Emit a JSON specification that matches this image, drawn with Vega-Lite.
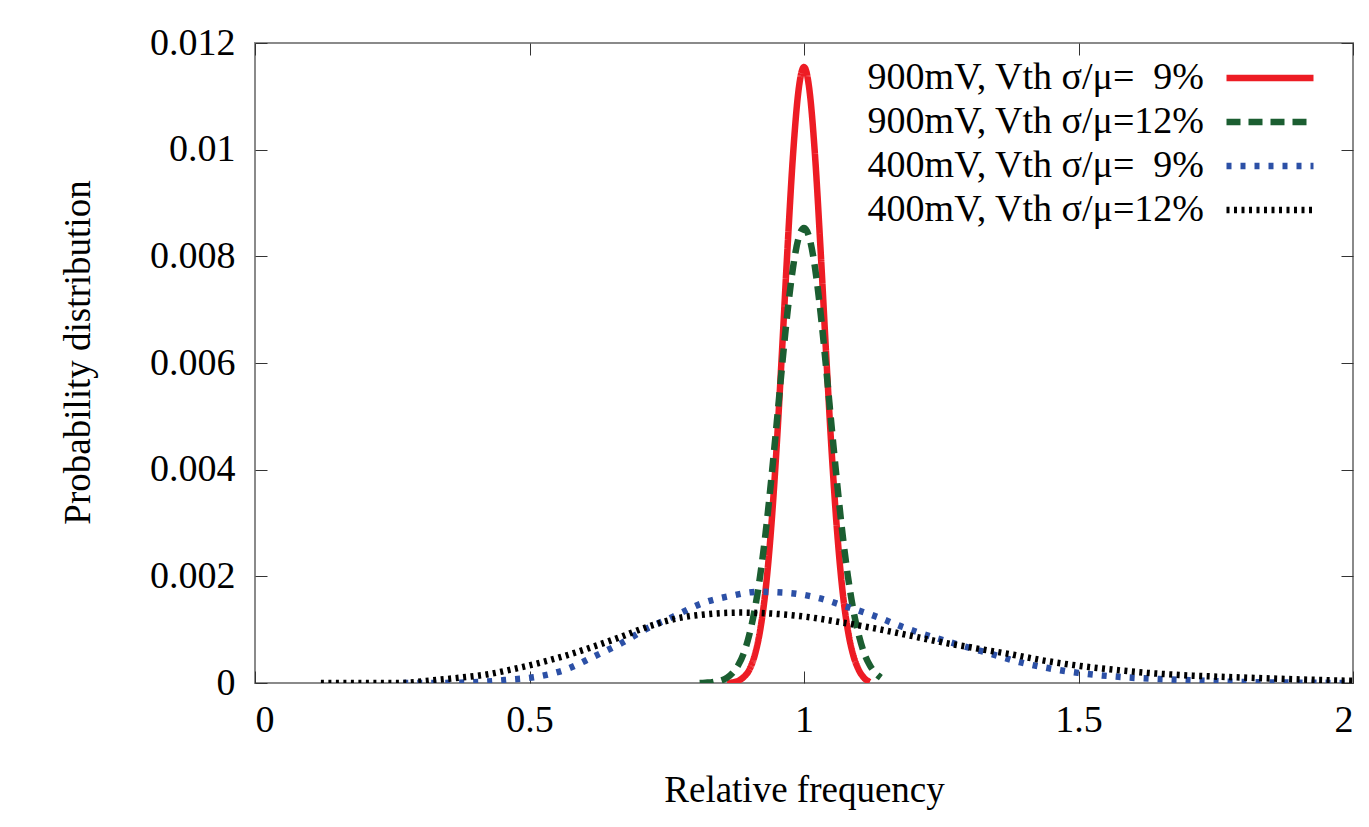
{
  "$schema": "https://vega.github.io/schema/vega-lite/v6.json",
  "width": 1098,
  "height": 640,
  "autosize": {"type": "none"},
  "padding": {"left": 255, "top": 43, "right": 16, "bottom": 144},
  "background": "white",
  "config": {
    "view": {"stroke": "#8a8a8a", "strokeWidth": 2},
    "font": "Liberation Serif",
    "axis": {
      "labelFont": "Liberation Serif",
      "labelFontSize": 38,
      "labelColor": "#000",
      "titleFont": "Liberation Serif",
      "titleFontSize": 37,
      "titleFontWeight": "normal",
      "titleColor": "#000",
      "domain": false,
      "grid": false,
      "tickColor": "#333",
      "tickWidth": 1,
      "tickSize": -12
    },
    "legend": {
      "labelFont": "Liberation Serif",
      "labelFontSize": 38,
      "labelColor": "#000"
    }
  },
  "data": {
    "values": [
      {"s": "A", "x": 0.86, "y": 0.0},
      {"s": "A", "x": 0.87, "y": 0.00001},
      {"s": "A", "x": 0.88, "y": 0.00004},
      {"s": "A", "x": 0.89, "y": 0.00011},
      {"s": "A", "x": 0.90, "y": 0.00024},
      {"s": "A", "x": 0.91, "y": 0.00051},
      {"s": "A", "x": 0.92, "y": 0.00098},
      {"s": "A", "x": 0.93, "y": 0.00174},
      {"s": "A", "x": 0.94, "y": 0.00288},
      {"s": "A", "x": 0.95, "y": 0.0044},
      {"s": "A", "x": 0.96, "y": 0.00623},
      {"s": "A", "x": 0.97, "y": 0.00816},
      {"s": "A", "x": 0.98, "y": 0.0099},
      {"s": "A", "x": 0.99, "y": 0.01111},
      {"s": "A", "x": 1.00, "y": 0.01155},
      {"s": "A", "x": 1.01, "y": 0.01111},
      {"s": "A", "x": 1.02, "y": 0.0099},
      {"s": "A", "x": 1.03, "y": 0.00816},
      {"s": "A", "x": 1.04, "y": 0.00623},
      {"s": "A", "x": 1.05, "y": 0.0044},
      {"s": "A", "x": 1.06, "y": 0.00288},
      {"s": "A", "x": 1.07, "y": 0.00174},
      {"s": "A", "x": 1.08, "y": 0.00098},
      {"s": "A", "x": 1.09, "y": 0.00051},
      {"s": "A", "x": 1.10, "y": 0.00024},
      {"s": "A", "x": 1.11, "y": 0.00009},
      {"s": "A", "x": 1.12, "y": 0.00002},
      {"s": "B", "x": 0.81, "y": 0.0},
      {"s": "B", "x": 0.82, "y": 0.000006},
      {"s": "B", "x": 0.83, "y": 0.00001},
      {"s": "B", "x": 0.84, "y": 0.00003},
      {"s": "B", "x": 0.85, "y": 0.00005},
      {"s": "B", "x": 0.86, "y": 0.0001},
      {"s": "B", "x": 0.87, "y": 0.00019},
      {"s": "B", "x": 0.88, "y": 0.00033},
      {"s": "B", "x": 0.89, "y": 0.00055},
      {"s": "B", "x": 0.90, "y": 0.00089},
      {"s": "B", "x": 0.91, "y": 0.00136},
      {"s": "B", "x": 0.92, "y": 0.002},
      {"s": "B", "x": 0.93, "y": 0.00281},
      {"s": "B", "x": 0.94, "y": 0.00378},
      {"s": "B", "x": 0.95, "y": 0.00484},
      {"s": "B", "x": 0.96, "y": 0.00594},
      {"s": "B", "x": 0.97, "y": 0.00696},
      {"s": "B", "x": 0.98, "y": 0.00779},
      {"s": "B", "x": 0.99, "y": 0.00834},
      {"s": "B", "x": 1.00, "y": 0.00853},
      {"s": "B", "x": 1.01, "y": 0.00834},
      {"s": "B", "x": 1.02, "y": 0.00779},
      {"s": "B", "x": 1.03, "y": 0.00696},
      {"s": "B", "x": 1.04, "y": 0.00594},
      {"s": "B", "x": 1.05, "y": 0.00484},
      {"s": "B", "x": 1.06, "y": 0.00378},
      {"s": "B", "x": 1.07, "y": 0.00281},
      {"s": "B", "x": 1.08, "y": 0.002},
      {"s": "B", "x": 1.09, "y": 0.00136},
      {"s": "B", "x": 1.10, "y": 0.00089},
      {"s": "B", "x": 1.11, "y": 0.00055},
      {"s": "B", "x": 1.12, "y": 0.00033},
      {"s": "B", "x": 1.13, "y": 0.00019},
      {"s": "B", "x": 1.14, "y": 0.0001},
      {"s": "C", "x": 0.27, "y": 0.0},
      {"s": "C", "x": 0.32, "y": 0.0},
      {"s": "C", "x": 0.41, "y": 0.00002},
      {"s": "C", "x": 0.46, "y": 0.00006},
      {"s": "C", "x": 0.515, "y": 0.00012},
      {"s": "C", "x": 0.568, "y": 0.00026},
      {"s": "C", "x": 0.616, "y": 0.00049},
      {"s": "C", "x": 0.668, "y": 0.00075},
      {"s": "C", "x": 0.712, "y": 0.00101},
      {"s": "C", "x": 0.761, "y": 0.00124},
      {"s": "C", "x": 0.816, "y": 0.0015},
      {"s": "C", "x": 0.865, "y": 0.00163},
      {"s": "C", "x": 0.916, "y": 0.00171},
      {"s": "C", "x": 0.971, "y": 0.00169},
      {"s": "C", "x": 1.024, "y": 0.0016},
      {"s": "C", "x": 1.078, "y": 0.00143},
      {"s": "C", "x": 1.133, "y": 0.00124},
      {"s": "C", "x": 1.18, "y": 0.00105},
      {"s": "C", "x": 1.235, "y": 0.00086},
      {"s": "C", "x": 1.284, "y": 0.00071},
      {"s": "C", "x": 1.336, "y": 0.00056},
      {"s": "C", "x": 1.393, "y": 0.00039},
      {"s": "C", "x": 1.444, "y": 0.00028},
      {"s": "C", "x": 1.499, "y": 0.00019},
      {"s": "C", "x": 1.581, "y": 0.00011},
      {"s": "C", "x": 1.685, "y": 0.00006},
      {"s": "C", "x": 1.794, "y": 0.00002},
      {"s": "C", "x": 2.0, "y": 0.0},
      {"s": "D", "x": 0.12, "y": 0.0},
      {"s": "D", "x": 0.264, "y": 0.0},
      {"s": "D", "x": 0.324, "y": 0.00005},
      {"s": "D", "x": 0.373, "y": 0.0001},
      {"s": "D", "x": 0.422, "y": 0.00016},
      {"s": "D", "x": 0.47, "y": 0.00026},
      {"s": "D", "x": 0.519, "y": 0.00038},
      {"s": "D", "x": 0.568, "y": 0.00052},
      {"s": "D", "x": 0.616, "y": 0.00068},
      {"s": "D", "x": 0.665, "y": 0.00086},
      {"s": "D", "x": 0.714, "y": 0.00105},
      {"s": "D", "x": 0.768, "y": 0.00121},
      {"s": "D", "x": 0.823, "y": 0.00129},
      {"s": "D", "x": 0.883, "y": 0.00132},
      {"s": "D", "x": 0.944, "y": 0.0013},
      {"s": "D", "x": 1.005, "y": 0.00124},
      {"s": "D", "x": 1.066, "y": 0.00114},
      {"s": "D", "x": 1.126, "y": 0.00103},
      {"s": "D", "x": 1.188, "y": 0.0009},
      {"s": "D", "x": 1.248, "y": 0.00077},
      {"s": "D", "x": 1.308, "y": 0.00066},
      {"s": "D", "x": 1.381, "y": 0.00053},
      {"s": "D", "x": 1.443, "y": 0.00041},
      {"s": "D", "x": 1.503, "y": 0.00032},
      {"s": "D", "x": 1.563, "y": 0.00025},
      {"s": "D", "x": 1.625, "y": 0.00019},
      {"s": "D", "x": 1.685, "y": 0.00015},
      {"s": "D", "x": 1.807, "y": 0.0001},
      {"s": "D", "x": 1.927, "y": 0.00006},
      {"s": "D", "x": 2.0, "y": 0.00004}
    ]
  },
  "transform": [
    {"lookup": "s", "from": {"data": {"values": [
      {"s": "A", "label": "900mV, Vth σ/μ=\u00a0\u00a09%"},
      {"s": "B", "label": "900mV, Vth σ/μ=12%"},
      {"s": "C", "label": "400mV, Vth σ/μ=\u00a0\u00a09%"},
      {"s": "D", "label": "400mV, Vth σ/μ=12%"}
    ]}, "key": "s", "fields": ["label"]}}
  ],
  "resolve": {"axis": {"x": "independent", "y": "independent"}},
  "layer": [
    {
      "mark": {"type": "line", "interpolate": "monotone", "strokeWidth": 6.5, "strokeCap": "butt", "clip": true},
      "encoding": {
        "x": {"field": "x", "type": "quantitative", "scale": {"domain": [0, 2], "nice": false},
          "axis": {"values": [0, 0.5, 1, 1.5, 2], "format": "~g", "title": "Relative frequency", "labelPadding": 30, "titlePadding": 33, "orient": "bottom"}},
        "y": {"field": "y", "type": "quantitative", "scale": {"domain": [0, 0.012], "nice": false},
          "axis": {"values": [0, 0.002, 0.004, 0.006, 0.008, 0.01, 0.012], "format": "~g", "title": "Probability distribution", "labelPadding": 32, "titlePadding": 52, "titleY": 309, "orient": "left"}},
        "color": {"field": "label", "type": "nominal",
          "sort": ["900mV, Vth σ/μ=\u00a0\u00a09%", "900mV, Vth σ/μ=12%", "400mV, Vth σ/μ=\u00a0\u00a09%", "400mV, Vth σ/μ=12%"],
          "scale": {"domain": ["900mV, Vth σ/μ=\u00a0\u00a09%", "900mV, Vth σ/μ=12%", "400mV, Vth σ/μ=\u00a0\u00a09%", "400mV, Vth σ/μ=12%"], "range": ["#ed1c24", "#1b5e31", "#2c50a6", "#000000"]},
          "legend": {"title": null, "orient": "none", "legendX": 990, "legendY": 10, "symbolType": "M-2,0H2", "symbolSize": 1892, "symbolStrokeWidth": 6.5, "labelAlign": "right", "labelOffset": -91, "labelLimit": 800, "rowPadding": 0, "padding": 0}},
        "strokeDash": {"field": "label", "type": "nominal",
          "scale": {"domain": ["900mV, Vth σ/μ=\u00a0\u00a09%", "900mV, Vth σ/μ=12%", "400mV, Vth σ/μ=\u00a0\u00a09%", "400mV, Vth σ/μ=12%"], "range": [[1, 0], [14, 8], [5, 9], [3, 4.5]]},
          "legend": {"title": null, "orient": "none", "legendX": 990, "legendY": 10, "symbolType": "M-2,0H2", "symbolSize": 1892, "symbolStrokeWidth": 6.5, "labelAlign": "right", "labelOffset": -91, "labelLimit": 800, "rowPadding": 0, "padding": 0}},
        "order": {"field": "x", "type": "quantitative"}
      }
    },
    {
      "mark": {"type": "point", "opacity": 0},
      "encoding": {
        "x": {"field": "x", "type": "quantitative", "scale": {"domain": [0, 2], "nice": false},
          "axis": {"orient": "top", "values": [0, 0.5, 1, 1.5, 2], "labels": false, "title": null}},
        "y": {"field": "y", "type": "quantitative", "scale": {"domain": [0, 0.012], "nice": false},
          "axis": {"orient": "right", "values": [0, 0.002, 0.004, 0.006, 0.008, 0.01, 0.012], "labels": false, "title": null}}
      }
    }
  ]
}
